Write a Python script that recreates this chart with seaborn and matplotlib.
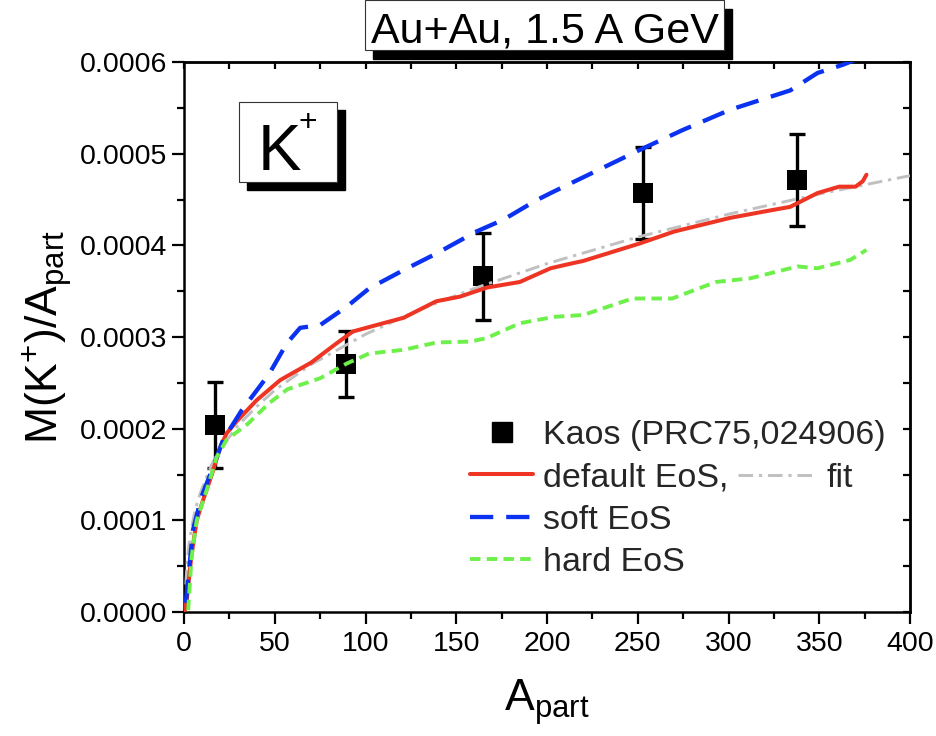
import matplotlib
matplotlib.use("Agg")
import matplotlib.pyplot as plt
import numpy as np
import pandas as pd
import seaborn as sns
from matplotlib.patches import Rectangle
from matplotlib.lines import Line2D
from matplotlib.ticker import MultipleLocator, FormatStrFormatter, NullFormatter

# ---- data -------------------------------------------------------------
# Kaos measurement (PRC75, 024906)
a_kaos = [17, 89, 165, 253, 338]
m_kaos = [0.000204, 0.000271, 0.000366, 0.000457, 0.000471]
m_kaos_err = [0.000047, 0.000036, 0.000047, 0.000050, 0.000050]

# default EoS
a_default = [0.5, 1.5, 4, 7, 10.5, 15, 20, 23.5, 29, 40, 53, 70, 84, 93, 106,
             121, 139, 152, 167, 185, 202, 213, 220, 251, 270, 301, 320, 334,
             349, 361, 370, 374, 376]
m_default = [0.000002, 0.000013, 0.000060, 0.000100, 0.000122, 0.000148,
             0.000180, 0.000195, 0.000208, 0.000231, 0.000253, 0.000272,
             0.000293, 0.000306, 0.000313, 0.000321, 0.000339, 0.000344,
             0.000354, 0.000360, 0.000375, 0.000380, 0.000383, 0.000402,
             0.000415, 0.000430, 0.000437, 0.000442, 0.000457, 0.000464,
             0.000464, 0.000470, 0.000477]

# soft EoS
a_soft = [1, 5, 9.7, 16, 21.6, 31.8, 43.6, 47, 56.6, 64, 75, 89.6, 102, 121,
          139, 161, 176, 194, 202, 251, 275, 301, 334, 349, 363, 372]
m_soft = [0.000010, 0.000090, 0.000126, 0.000158, 0.000188, 0.000220,
          0.000251, 0.000260, 0.000293, 0.000310, 0.000313, 0.000333,
          0.000353, 0.000373, 0.000391, 0.000415, 0.000428, 0.000449,
          0.000457, 0.000504, 0.000526, 0.000548, 0.000569, 0.000588,
          0.000597, 0.000604]

# hard EoS
a_hard = [2.3, 4.2, 7, 12.5, 18, 23.5, 35, 47, 57, 75, 89.6, 102, 121, 139,
          158, 167, 185, 204, 220, 247, 269, 293, 312, 338, 349, 367, 376]
m_hard = [0.000002, 0.000060, 0.000100, 0.000133, 0.000169, 0.000188,
          0.000205, 0.000228, 0.000243, 0.000255, 0.000271, 0.000282,
          0.000286, 0.000294, 0.000295, 0.000299, 0.000315, 0.000322,
          0.000324, 0.000342, 0.000342, 0.000360, 0.000364, 0.000377,
          0.000375, 0.000384, 0.000395]

# fit to the default EoS
a_fit = [1, 1.5, 2.5, 4, 6, 8, 10, 15, 20, 30, 40, 50, 70, 100, 130, 160,
         200, 250, 300, 350, 400]
m_fit = [0.000030, 0.000046, 0.000070, 0.000090, 0.000110, 0.000124,
         0.000135, 0.000160, 0.000178, 0.000204, 0.000224, 0.000242,
         0.000270, 0.000303, 0.000330, 0.000353, 0.000380, 0.000409,
         0.000434, 0.000456, 0.000476]

x_ticks = [0, 50, 100, 150, 200, 250, 300, 350, 400]
y_ticks = [0.0, 0.0001, 0.0002, 0.0003, 0.0004, 0.0005, 0.0006]

# ---- style ------------------------------------------------------------
sns.set_theme(style="ticks")
plt.rcParams["font.family"] = ["Liberation Sans", "DejaVu Sans"]
plt.rcParams["mathtext.fontset"] = "custom"
plt.rcParams["mathtext.rm"] = "Liberation Sans"
plt.rcParams["mathtext.it"] = "Liberation Sans:italic"
plt.rcParams["mathtext.bf"] = "Liberation Sans:bold"

RED = "#EE3524"
BLUE = "#0A32F0"
GREEN = "#6EF04A"
GREY = "#C0C0C0"

W, H = 936, 736
fig = plt.figure(figsize=(W / 100, H / 100), dpi=100)


def fx(px):
    return px / W


def fy(py):
    return 1 - py / H


ax = fig.add_axes([fx(184), fy(612), (910 - 184) / W, (612 - 62) / H])

# ---- curves -----------------------------------------------------------
fit_df = pd.DataFrame({"A": a_fit, "M": m_fit})
def_df = pd.DataFrame({"A": a_default, "M": m_default})
soft_df = pd.DataFrame({"A": a_soft, "M": m_soft})
hard_df = pd.DataFrame({"A": a_hard, "M": m_hard})
kaos_df = pd.DataFrame({"A": a_kaos, "M": m_kaos, "err": m_kaos_err})

ax.errorbar(kaos_df["A"], kaos_df["M"], yerr=kaos_df["err"], fmt="none",
            ecolor="black", elinewidth=2.4, capsize=6, capthick=2.4, zorder=2)
sns.scatterplot(data=kaos_df, x="A", y="M", marker="s", s=210, color="black",
                edgecolor="black", linewidth=0, ax=ax, zorder=2.5, legend=False)

sns.lineplot(data=fit_df, x="A", y="M", ax=ax, color=GREY, lw=2.1,
             linestyle=(0, (5.0, 2.0, 1.1, 2.0)), sort=False, estimator=None,
             zorder=3)
sns.lineplot(data=def_df, x="A", y="M", ax=ax, color=RED, lw=2.9,
             sort=False, estimator=None, zorder=4)
sns.lineplot(data=soft_df, x="A", y="M", ax=ax, color=BLUE, lw=3.1,
             linestyle=(0, (5.4, 3.0)), sort=False, estimator=None, zorder=5)
sns.lineplot(data=hard_df, x="A", y="M", ax=ax, color=GREEN, lw=2.8,
             linestyle=(0, (2.7, 1.6)), sort=False, estimator=None, zorder=6)

# ---- axes -------------------------------------------------------------
ax.set_xlim(0, 400)
ax.set_ylim(0, 0.0006)
ax.set_xticks(x_ticks)
ax.set_yticks(y_ticks)
ax.xaxis.set_minor_locator(MultipleLocator(25))
ax.yaxis.set_minor_locator(MultipleLocator(0.00005))
ax.yaxis.set_major_formatter(FormatStrFormatter("%.4f"))
ax.tick_params(axis="both", which="major", direction="out", length=8.5,
               width=1.6, color="black", labelsize=20.5, labelcolor="black",
               bottom=True, left=True, top=False, right=False)
ax.tick_params(axis="both", which="minor", direction="out", length=5,
               width=1.6, color="black", bottom=True, left=True,
               top=False, right=False)
ax.tick_params(axis="x", which="major", pad=5)
ax.tick_params(axis="y", which="major", pad=3.5)
for sp in ax.spines.values():
    sp.set_color("black")
    sp.set_linewidth(1.8)

# mirrored inward ticks on top and right
top = ax.secondary_xaxis("top")
top.xaxis.set_major_locator(MultipleLocator(25))
top.xaxis.set_major_formatter(NullFormatter())
top.tick_params(direction="in", length=5, width=1.6, color="black")
top.spines["top"].set_linewidth(1.8)
right = ax.secondary_yaxis("right")
right.yaxis.set_major_locator(MultipleLocator(0.00005))
right.yaxis.set_major_formatter(NullFormatter())
right.tick_params(direction="in", length=5, width=1.6, color="black")
right.spines["right"].set_linewidth(1.8)

ax.set_xlabel(r"A$_{\mathrm{part}}$", fontsize=32, color="black")
ax.set_ylabel(r"M(K$^{+}$)/A$_{\mathrm{part}}$", fontsize=32, color="black")
ax.xaxis.set_label_coords(0.5, (612 - 677) / 550)
ax.yaxis.set_label_coords((74 - 184) / 726, 0.5)

# ---- legend -----------------------------------------------------------
kaos_key = Line2D([], [], marker="s", ms=14, color="black", linestyle="none")
lines = ax.get_lines()
fit_line, def_line, soft_line, hard_line = lines[-4], lines[-3], lines[-2], lines[-1]
leg = ax.legend([kaos_key, def_line, soft_line, hard_line],
                ["Kaos (PRC75,024906)", "default EoS,", "soft EoS", "hard EoS"],
                loc="center left", bbox_to_anchor=(0.394, 0.2055),
                frameon=False, fontsize=24.5, handlelength=1.85,
                handletextpad=0.3, labelspacing=0.33, borderpad=0,
                borderaxespad=0)
ax.add_artist(leg)
ax.legend([fit_line], ["fit"], loc="center left",
          bbox_to_anchor=(0.763, 0.2436), frameon=False, fontsize=24.5,
          handlelength=2.26, handletextpad=0.35, borderpad=0, borderaxespad=0)

# ---- boxed labels with drop shadows -----------------------------------
def shadow_box(x0, y0, x1, y1, dx=8, dy=9):
    fig.patches.append(Rectangle((fx(x0 + dx), fy(y1 + dy)), (x1 - x0) / W,
                                 (y1 - y0) / H, transform=fig.transFigure,
                                 facecolor="black", edgecolor="black", zorder=10))
    fig.patches.append(Rectangle((fx(x0), fy(y1)), (x1 - x0) / W,
                                 (y1 - y0) / H, transform=fig.transFigure,
                                 facecolor="white", edgecolor="#333333",
                                 lw=0.8, zorder=11))


shadow_box(365, 0, 724, 50)
fig.text(fx(545), fy(42), "Au+Au, 1.5 A GeV", ha="center", va="baseline",
         fontsize=31, color="black", zorder=12)

shadow_box(239, 102, 337, 182, dx=8, dy=8)
fig.text(fx(258), fy(170), "K", ha="left", va="baseline", fontsize=47,
         color="black", zorder=12)
fig.text(fx(299), fy(131), "+", ha="left", va="baseline", fontsize=23,
         color="black", zorder=12)

fig.savefig("out.png", dpi=100)
